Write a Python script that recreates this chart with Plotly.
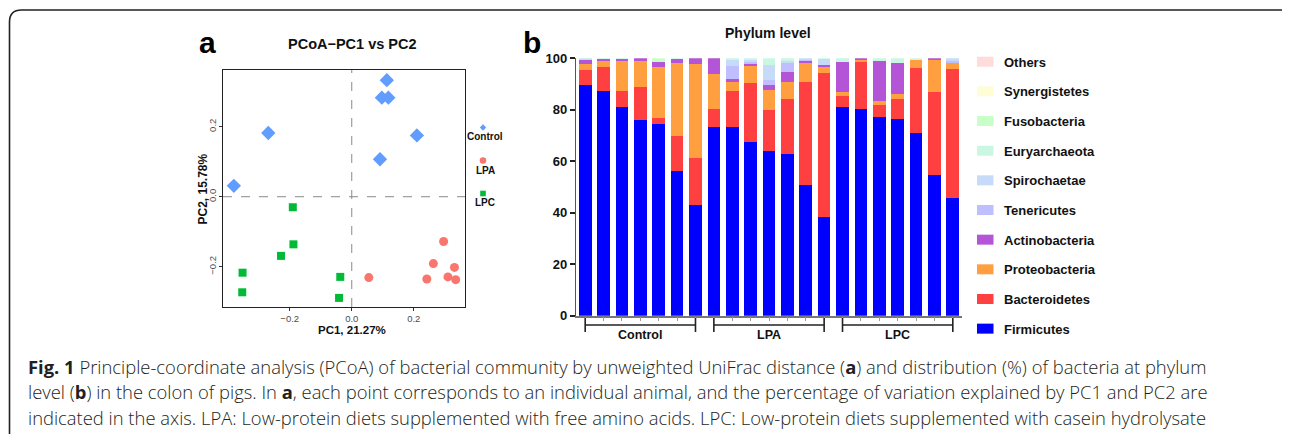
import plotly.graph_objects as go

# The page body adds an 8px margin, so the figure is sized to fill the rest of the window.
OFF = 8
W, H = 1290 - OFF, 434 - OFF

# ---------------- Panel a data (PCoA) ----------------
control_pc1 = [0.113, 0.097, 0.118, -0.269, 0.210, 0.091, -0.380]
control_pc2 = [0.333, 0.283, 0.283, 0.182, 0.175, 0.107, 0.031]
lpa_pc1 = [0.296, 0.263, 0.331, 0.055, 0.242, 0.310, 0.335]
lpa_pc2 = [-0.128, -0.191, -0.202, -0.231, -0.235, -0.229, -0.237]
lpc_pc1 = [-0.190, -0.188, -0.228, -0.352, -0.353, -0.037, -0.041]
lpc_pc2 = [-0.030, -0.136, -0.169, -0.217, -0.273, -0.229, -0.289]
pcoa_ticks = [-0.2, 0.0, 0.2]

# ---------------- Panel b data (phylum %) ----------------
groups = ["Control", "LPA", "LPC"]
n_per_group = 7
samples = list(range(1, 22))
firmicutes = [89.5, 87.3, 81.0, 75.9, 74.6, 56.2, 43.0,
              73.3, 73.2, 67.5, 63.9, 62.9, 50.8, 38.5,
              81.1, 80.2, 77.3, 76.3, 71.0, 54.7, 45.8]
bacteroidetes = [6.0, 9.4, 6.2, 12.9, 2.2, 13.7, 18.3,
                 7.1, 14.0, 22.8, 16.0, 21.4, 39.9, 55.9,
                 4.3, 18.2, 4.7, 7.8, 25.3, 32.3, 49.9]
proteobacteria = [2.4, 2.4, 12.0, 10.0, 19.7, 28.3, 36.4,
                  13.5, 3.7, 6.7, 7.7, 6.6, 7.3, 2.3,
                  1.5, 1.1, 1.3, 2.1, 3.0, 12.3, 2.7]
actinobacteria = [1.4, 0.6, 0.5, 1.2, 2.0, 1.5, 2.3,
                  6.1, 0.9, 1.0, 2.0, 3.9, 1.1, 0.7,
                  11.8, 0.5, 15.6, 11.8, 0.0, 0.7, 0.0]
tenericutes = [0.3, 0, 0, 0, 0, 0, 0,
               0, 5.2, 0.5, 2.0, 3.2, 0.5, 0,
               0, 0, 0, 0, 0, 0, 0.7]
spirochaetae = [0.3, 0, 0, 0, 0, 0, 0,
                0, 2.3, 0.8, 5.8, 1.1, 0.4, 2.3,
                0, 0, 0, 0, 0, 0, 0.9]
euryarchaeota = [0.4, 0.3, 0.3, 0, 0.5, 0.3, 0,
                 0, 0.7, 0.7, 2.6, 0.9, 0, 0.3,
                 1.3, 0, 1.1, 2.0, 0.7, 0, 0]
fusobacteria = [0, 0, 0, 0, 1.0, 0, 0,
                0, 0, 0, 0, 0, 0, 0,
                0, 0, 0, 0, 0, 0, 0]
synergistetes = [0] * 21
others = [0] * 21
pct_ticks = [0, 20, 40, 60, 80, 100]

phyla = [
    ("Firmicutes", firmicutes, "#0000FF"),
    ("Bacteroidetes", bacteroidetes, "#FF4040"),
    ("Proteobacteria", proteobacteria, "#FF9F40"),
    ("Actinobacteria", actinobacteria, "#B355D6"),
    ("Tenericutes", tenericutes, "#BFBFFF"),
    ("Spirochaetae", spirochaetae, "#C6DBF7"),
    ("Euryarchaeota", euryarchaeota, "#C9F7E4"),
    ("Fusobacteria", fusobacteria, "#C8FFC8"),
    ("Synergistetes", synergistetes, "#FFFDD6"),
    ("Others", others, "#FFDCDC"),
]

caption_lines = [
    "<b>Fig. 1</b> Principle-coordinate analysis (PCoA) of bacterial community by unweighted UniFrac distance (<b>a</b>) and distribution (%) of bacteria at phylum",
    "level (<b>b</b>) in the colon of pigs. In <b>a</b>, each point corresponds to an individual animal, and the percentage of variation explained by PC1 and PC2 are",
    "indicated in the axis. LPA: Low-protein diets supplemented with free amino acids. LPC: Low-protein diets supplemented with casein hydrolysate",
]

FONT = "Liberation Sans, Arial, sans-serif"


def px(x):
    """screen pixel x -> paper fraction"""
    return (x - OFF) / W


def py(y):
    """screen pixel y -> paper fraction"""
    return 1 - (y - OFF) / H


fig = go.Figure()

# ---- panel a traces ----
pcoa_sets = [
    ("Control", control_pc1, control_pc2, "#619CFF", "diamond", 11),
    ("LPA", lpa_pc1, lpa_pc2, "#F8766D", "circle", 9),
    ("LPC", lpc_pc1, lpc_pc2, "#00BA38", "square", 8),
]
for name, xs, ys, col, sym, sz in pcoa_sets:
    fig.add_trace(go.Scatter(x=xs, y=ys, mode="markers", name=name,
                             marker=dict(color=col, symbol=sym, size=sz, line=dict(width=0)),
                             xaxis="x", yaxis="y", showlegend=False))

# ---- panel b traces ----
for name, vals, col in phyla:
    fig.add_trace(go.Bar(x=samples, y=vals, name=name, marker=dict(color=col, line=dict(width=0)),
                         width=0.69, xaxis="x2", yaxis="y2", showlegend=False))

shapes = []
annotations = []

# zero dashed lines in panel a
shapes.append(dict(type="line", xref="x", yref="y domain", x0=0, x1=0, y0=0, y1=1,
                   line=dict(color="#8a8a8a", width=1, dash="dash"), layer="below"))
shapes.append(dict(type="line", xref="x domain", yref="y", x0=0, x1=1, y0=0, y1=0,
                   line=dict(color="#8a8a8a", width=1, dash="dash"), layer="below"))

# panel a legend (marker above label)
leg_a = [("Control", "#619CFF", "diamond", 127.5, 136.5),
         ("LPA", "#F8766D", "circle", 160.5, 170.5),
         ("LPC", "#00BA38", "square", 193.5, 202.5)]
for name, col, sym, my, ty in leg_a:
    cx = 483
    if sym == "diamond":
        r = 3.2
        path = (f"M {px(cx)},{py(my - r)} L {px(cx + r)},{py(my)} L {px(cx)},{py(my + r)} "
                f"L {px(cx - r)},{py(my)} Z")
        shapes.append(dict(type="path", xref="paper", yref="paper", path=path,
                           fillcolor=col, line=dict(width=0)))
    elif sym == "circle":
        r = 3.3
        shapes.append(dict(type="circle", xref="paper", yref="paper",
                           x0=px(cx - r), x1=px(cx + r), y0=py(my + r), y1=py(my - r),
                           fillcolor=col, line=dict(width=0)))
    else:
        r = 2.8
        shapes.append(dict(type="rect", xref="paper", yref="paper",
                           x0=px(cx - r), x1=px(cx + r), y0=py(my + r), y1=py(my - r),
                           fillcolor=col, line=dict(width=0)))
    annotations.append(dict(text=f"<b>{name}</b>", xref="paper", yref="paper",
                            x=px(cx + 2), y=py(ty), xanchor="center", yanchor="middle",
                            showarrow=False, font=dict(size=10, color="#111", family=FONT)))

# panel b group brackets
for gi, g in enumerate(groups):
    s0 = samples[gi * n_per_group]
    s1 = samples[gi * n_per_group + n_per_group - 1]
    yb = py(325)
    shapes.append(dict(type="line", xref="x2", yref="paper", x0=s0, x1=s1, y0=yb, y1=yb,
                       line=dict(color="#222", width=1.6)))
    for s in (s0, s1):
        shapes.append(dict(type="line", xref="x2", yref="paper", x0=s, x1=s,
                           y0=py(318), y1=py(332), line=dict(color="#222", width=1.6)))
    annotations.append(dict(text=f"<b>{g}</b>", xref="x2", yref="paper", x=(s0 + s1) / 2,
                            y=py(334.5), xanchor="center", yanchor="middle", showarrow=False,
                            font=dict(size=12.5, color="#111", family=FONT)))

# panel b legend (top: Others ... bottom: Firmicutes)
leg_top, leg_step = 61.7, 29.66
for i, (name, vals, col) in enumerate(reversed(phyla)):
    yc = leg_top + i * leg_step
    shapes.append(dict(type="rect", xref="paper", yref="paper",
                       x0=px(977), x1=px(993.5), y0=py(yc + 5), y1=py(yc - 5),
                       fillcolor=col, line=dict(width=0)))
    annotations.append(dict(text=f"<b>{name}</b>", xref="paper", yref="paper",
                            x=px(1002), y=py(yc + 0.5), xanchor="left", yanchor="middle",
                            showarrow=False, font=dict(size=13, color="#111", family=FONT)))

# titles and panel letters
annotations += [
    dict(text="<b>a</b>", xref="paper", yref="paper", x=px(207), y=py(42), xanchor="center",
         yanchor="middle", showarrow=False, font=dict(size=30, color="#000", family=FONT)),
    dict(text="<b>b</b>", xref="paper", yref="paper", x=px(532), y=py(42), xanchor="center",
         yanchor="middle", showarrow=False, font=dict(size=30, color="#000", family=FONT)),
    dict(text="<b>PCoA\u2212PC1 vs PC2</b>", xref="paper", yref="paper", x=px(352), y=py(44),
         xanchor="center", yanchor="middle", showarrow=False,
         font=dict(size=14.5, color="#111", family=FONT)),
    dict(text="<b>Phylum level</b>", xref="paper", yref="paper", x=px(768), y=py(33),
         xanchor="center", yanchor="middle", showarrow=False,
         font=dict(size=14, color="#111", family=FONT)),
    dict(text="<b>PC1, 21.27%</b>", xref="paper", yref="paper", x=px(352), y=py(330),
         xanchor="center", yanchor="middle", showarrow=False,
         font=dict(size=11.5, color="#111", family=FONT)),
    dict(text="<b>PC2, 15.78%</b>", xref="paper", yref="paper", x=px(202.5), y=py(189),
         xanchor="center", yanchor="middle", showarrow=False, textangle=-90,
         font=dict(size=12, color="#111", family=FONT)),
]

# caption
for i, line in enumerate(caption_lines):
    annotations.append(dict(text=line, xref="paper", yref="paper", x=px(26), y=py(366 + i * 25.5),
                            xanchor="left", yanchor="middle", showarrow=False,
                            font=dict(size=18.4, color="#231f20", family="Open Sans, sans-serif",
                                      weight=300)))

# figure border (rounded top-left corner)
shapes.append(dict(type="path", xref="paper", yref="paper",
                   path=(f"M {px(9.5)},{py(440)} L {px(9.5)},{py(22)} "
                         f"Q {px(9.5)},{py(10)} {px(21.5)},{py(10)} L {px(1284)},{py(10)} "
                         f"L {px(1289)},{py(14)}"),
                   line=dict(color="#222", width=1.6)))

fig.update_layout(
    template="none",
    width=W, height=H, autosize=False,
    margin=dict(l=0, r=0, t=0, b=0, pad=0, autoexpand=False),
    paper_bgcolor="white", plot_bgcolor="white",
    barmode="stack", bargap=0.31, showlegend=False,
    font=dict(family=FONT, color="#111"),
    shapes=shapes, annotations=annotations,
    xaxis=dict(domain=[px(223), px(465)], range=[-0.415, 0.365], tickvals=pcoa_ticks,
               ticktext=["\u22120.2", "0.0", "0.2"], showgrid=False, zeroline=False,
               showline=True, linecolor="#222", linewidth=1.4, mirror=True, automargin=False,
               ticks="outside", ticklen=2.5, tickcolor="#333", tickwidth=1,
               tickfont=dict(size=9.5, color="#4d4d4d", family=FONT), anchor="y"),
    yaxis=dict(domain=[py(307), py(70)], range=[-0.315, 0.362], tickvals=pcoa_ticks,
               ticktext=["\u22120.2", "0.0", "0.2"], tickangle=-90, showgrid=False,
               zeroline=False, showline=True, linecolor="#222", linewidth=1.4, mirror=True,
               automargin=False,
               ticks="outside", ticklen=2.5, tickcolor="#333", tickwidth=1,
               tickfont=dict(size=9.5, color="#4d4d4d", family=FONT), anchor="x"),
    xaxis2=dict(domain=[px(576), px(962)], range=[0.5, 21.5], tickvals=samples,
                showticklabels=False, showgrid=False, zeroline=False, showline=True,
                linecolor="#777", linewidth=1.5, ticks="outside", ticklen=4, automargin=False,
                tickcolor="#999", tickwidth=1, anchor="y2"),
    yaxis2=dict(domain=[py(315.7), py(58.3)], range=[0, 100], tickvals=pct_ticks,
                ticktext=[f"<b>{t}</b>" for t in pct_ticks], showgrid=False, zeroline=False,
                showline=True, linecolor="#555", linewidth=1.2, ticks="outside", ticklen=5,
                tickcolor="#222", tickwidth=1.5, automargin=False,
                tickfont=dict(size=13, color="#111", family=FONT), anchor="x2"),
)

fig.write_html("out.html")
